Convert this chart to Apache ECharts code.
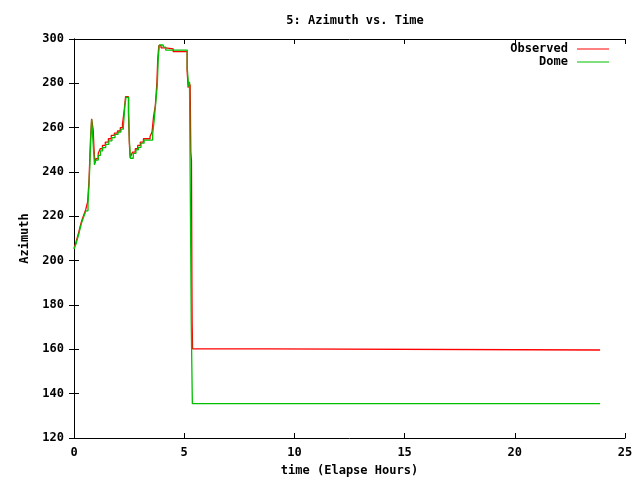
<!DOCTYPE html>
<html><head><meta charset="utf-8">
<script src="https://cdn.jsdelivr.net/npm/echarts@6/dist/echarts.min.js"></script>
<style>html,body{margin:0;padding:0;background:#fff}#c{width:640px;height:480px}</style>
</head><body><div id="c"></div>
<script>
const title = '5: Azimuth vs. Time';
const xName = 'time (Elapse Hours)';
const yName = 'Azimuth';
const seriesNames = ['Observed', 'Dome'];

const obsTime = [0, 0.08, 0.15, 0.22, 0.28, 0.35, 0.44, 0.53, 0.62, 0.68,
  0.75, 0.80, 0.87, 0.91, 0.95, 1.00, 1.10, 1.19, 1.29, 1.42,
  1.56, 1.69, 1.83, 1.97, 2.10, 2.20, 2.28, 2.34, 2.47, 2.51,
  2.55, 2.59, 2.66, 2.78, 2.89, 3.01, 3.15, 3.45, 3.54, 3.61,
  3.69, 3.76, 3.80, 3.85, 3.95, 4.15, 4.50, 5.13, 5.18, 5.22,
  5.27, 5.30, 5.33, 5.35, 5.36, 5.38, 8.80, 23.87];
const obsAz = [205.5, 208, 210.5, 213, 215.5, 218, 220.5, 223, 226.5, 236,
  255, 264, 259, 250, 244, 246, 248.5, 250.5, 252, 253.5,
  255, 256.5, 257.5, 258.5, 260, 261.5, 268, 274, 267, 253,
  246.5, 247.5, 249, 250.5, 252, 253.5, 255, 256, 258, 265,
  270, 280, 291, 297, 296, 295.5, 294.3, 286, 278, 280.5,
  279, 249, 245, 190, 172, 160.2, 159.7, 159.7];

const domeTime = [0, 0.09, 0.16, 0.23, 0.29, 0.36, 0.45, 0.54, 0.635, 0.69,
  0.76, 0.80, 0.89, 0.93, 0.99, 1.10, 1.20, 1.30, 1.44, 1.58,
  1.72, 1.86, 2.00, 2.13, 2.24, 2.31, 2.36, 2.48, 2.52, 2.56,
  2.69, 2.81, 2.92, 3.04, 3.18, 3.57, 3.64, 3.72, 3.78, 3.82,
  3.87, 4.05, 4.16, 5.14, 5.20, 5.24, 5.30, 5.32, 5.37, 23.87];
const domeAz = [205.3, 207.5, 210, 212.5, 215, 217.5, 220, 222.5, 225.9, 235.6,
  254.4, 263.8, 249.2, 243.2, 245.4, 247.5, 249.5, 251, 252.5, 254,
  255.5, 257, 258, 259.3, 260.4, 270.2, 273.7, 266.5, 253, 246.2,
  248.4, 250, 251.1, 253, 254.4, 257.1, 263.5, 272.5, 279.3, 290.8,
  297.3, 296.3, 295, 286.8, 278.5, 280.7, 280, 172, 135.5, 135.5];

const xTicks = {min: 0, max: 25, interval: 5};
const yTicks = {min: 120, max: 300, interval: 20};

const font = '"DejaVu Sans Mono", monospace';
const txt = {color: '#000', fontFamily: font, fontWeight: 'bold', fontSize: 12};
const pairs = (a, b) => a.map((v, i) => [v, b[i]]);

const axLine = {show: true, lineStyle: {color: '#000', width: 1}};
const axTick = {show: true, inside: true, length: 5, lineStyle: {color: '#000'}};

const chart = echarts.init(document.getElementById('c'), null, {renderer: 'canvas'});
chart.setOption({
  animation: false,
  backgroundColor: '#fff',
  title: {text: title, left: 350, top: 10, textAlign: 'center',
    textStyle: Object.assign({}, txt)},
  grid: {left: 74, right: 15, top: 39, bottom: 42, containLabel: false, outerBoundsMode: 'none'},
  legend: [
    {data: [{name: 'Observed', icon: 'rect'}], right: 31, top: 43, align: 'right', padding: 0,
      itemWidth: 32, itemHeight: 1, textStyle: Object.assign({padding: [0, 4, 0, 0]}, txt)},
    {data: [{name: 'Dome', icon: 'rect'}], right: 31, top: 56, align: 'right', padding: 0,
      itemWidth: 32, itemHeight: 1, textStyle: Object.assign({padding: [0, 4, 0, 0]}, txt)}
  ],
  xAxis: [
    {type: 'value', min: xTicks.min, max: xTicks.max, interval: xTicks.interval,
      name: xName, nameLocation: 'middle', nameGap: 27, nameTextStyle: txt,
      axisLine: axLine, axisTick: axTick, splitLine: {show: false},
      axisLabel: Object.assign({margin: 9}, txt)},
    {type: 'value', position: 'top', min: xTicks.min, max: xTicks.max, interval: xTicks.interval,
      axisLine: axLine, axisTick: axTick, splitLine: {show: false}, axisLabel: {show: false}}
  ],
  yAxis: [
    {type: 'value', min: yTicks.min, max: yTicks.max, interval: yTicks.interval,
      name: yName, nameLocation: 'middle', nameGap: 43, nameRotate: 90, nameTextStyle: txt,
      axisLine: axLine, axisTick: axTick, splitLine: {show: false},
      axisLabel: Object.assign({margin: 10}, txt)},
    {type: 'value', position: 'right', min: yTicks.min, max: yTicks.max, interval: yTicks.interval,
      axisLine: axLine, axisTick: axTick, splitLine: {show: false}, axisLabel: {show: false}}
  ],
  series: [
    {name: seriesNames[0], type: 'line', step: 'end', showSymbol: false, symbol: 'none',
      color: '#ff0000', lineStyle: {width: 1.3, color: '#ff0000'}, data: pairs(obsTime, obsAz)},
    {name: seriesNames[1], type: 'line', step: 'end', showSymbol: false, symbol: 'none',
      color: '#00c000', lineStyle: {width: 1.3, color: '#00c000'}, data: pairs(domeTime, domeAz)}
  ]
});
</script></body></html>
